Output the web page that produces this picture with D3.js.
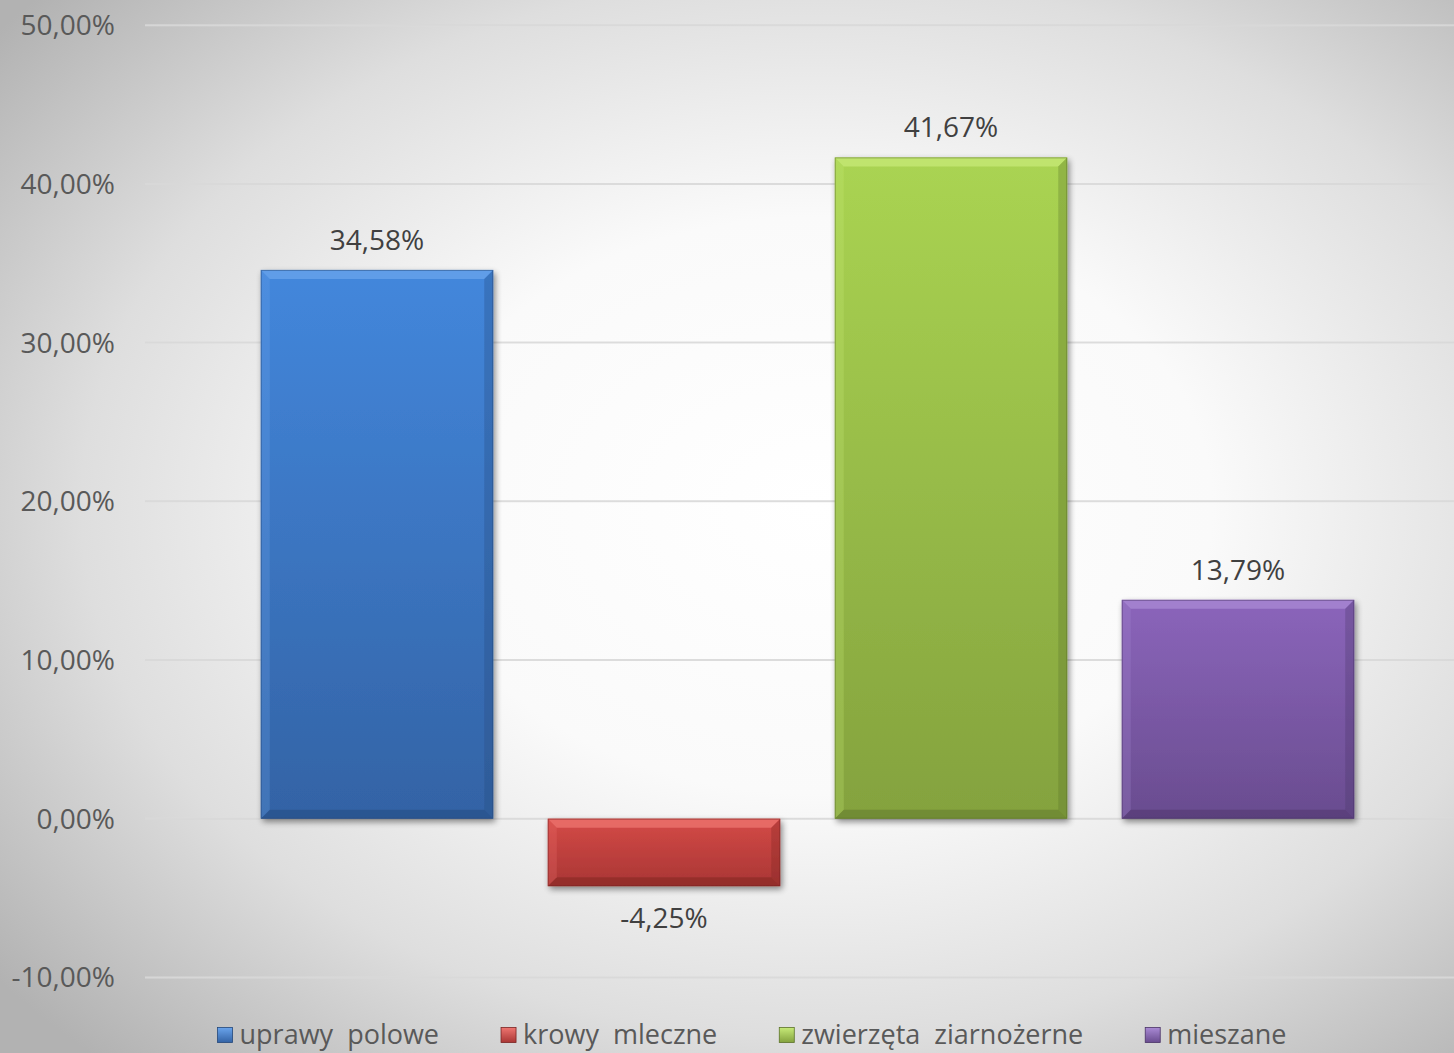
<!DOCTYPE html>
<html><head><meta charset="utf-8">
<script src="https://cdn.jsdelivr.net/npm/d3@7"></script>
<style>html,body{margin:0;padding:0;overflow:hidden;background:#fff}svg{display:block}</style>
</head><body>
<svg id="c" width="1454" height="1053"></svg>
<script>
const categories = ["uprawy  polowe", "krowy  mleczne", "zwierzęta  ziarnożerne", "mieszane"];
const values = [34.58, -4.25, 41.67, 13.79];
const valueLabels = ["34,58%", "-4,25%", "41,67%", "13,79%"];
const yTicks = [-10, 0, 10, 20, 30, 40, 50];
const yTickLabels = ["-10,00%", "0,00%", "10,00%", "20,00%", "30,00%", "40,00%", "50,00%"];
const colorsTop = ["#4387dc", "#d44a47", "#aad452", "#8b65bb"];
const colorsBottom = ["#3363a5", "#a93634", "#84a23e", "#694c8f"];
const colorsLight = ["#6aa4ec", "#ee7570", "#c7ea78", "#a98ad4"];
const colorsDark = ["#24487a", "#7a2422", "#5b7229", "#4a3466"];

const W = 1454, H = 1053;
const svg = d3.select("#c");
const font = "'Open Sans', sans-serif";
const defs = svg.append("defs");

const bg = defs.append("radialGradient").attr("id", "bg")
  .attr("cx", "0.56").attr("cy", "0.48").attr("r", "0.72").attr("fx", "0.56").attr("fy", "0.48");
bg.append("stop").attr("offset", "0").attr("stop-color", "#ffffff");
bg.append("stop").attr("offset", "0.38").attr("stop-color", "#fafafa");
bg.append("stop").attr("offset", "0.7").attr("stop-color", "#dedede");
bg.append("stop").attr("offset", "1").attr("stop-color", "#b2b2b2");
svg.append("rect").attr("width", W).attr("height", H).attr("fill", "url(#bg)");

const sh = defs.append("filter").attr("id", "sh").attr("x", "-10%").attr("y", "-10%").attr("width", "130%").attr("height", "130%");
sh.append("feGaussianBlur").attr("in", "SourceAlpha").attr("stdDeviation", 3);
sh.append("feOffset").attr("dx", 2).attr("dy", 3).attr("result", "b");
sh.append("feComponentTransfer").append("feFuncA").attr("type", "linear").attr("slope", 0.45);
const m = sh.append("feMerge"); m.append("feMergeNode"); m.append("feMergeNode").attr("in", "SourceGraphic");

categories.forEach((c, i) => {
  const g = defs.append("linearGradient").attr("id", "g" + i).attr("x1", 0).attr("y1", 0).attr("x2", 0).attr("y2", 1);
  g.append("stop").attr("offset", 0).attr("stop-color", colorsTop[i]);
  g.append("stop").attr("offset", 1).attr("stop-color", colorsBottom[i]);
});

const y = d3.scaleLinear().domain([-10, 50]).range([977.4, 25.2]);
const x = d3.scaleBand().domain(categories).range([233.5, 1381.5]).paddingInner(0.19).paddingOuter(0.095);

// gridlines
svg.append("g").selectAll("line").data(yTicks).join("line")
  .attr("x1", 145).attr("x2", W)
  .attr("y1", d => y(d)).attr("y2", d => y(d))
  .attr("stroke", "#d9d9d9").attr("stroke-width", 2).attr("opacity", 0.9);

// y labels
svg.append("g").selectAll("text").data(yTicks).join("text")
  .attr("x", 115).attr("y", d => y(d)).attr("dy", "0.36em")
  .attr("text-anchor", "end").attr("font-family", font).attr("font-size", 28)
  .attr("fill", "#595959").text((d, i) => yTickLabels[i]);

// bars
const bev = 9;
const bars = svg.append("g").selectAll("g").data(values).join("g").attr("filter", "url(#sh)");
bars.each(function (v, i) {
  const gg = d3.select(this);
  const x0 = x(categories[i]), w = x.bandwidth();
  const top = y(Math.max(0, v)), bot = y(Math.min(0, v));
  const h = bot - top;
  gg.append("rect").attr("x", x0).attr("y", top).attr("width", w).attr("height", h).attr("fill", "url(#g" + i + ")");
  const b = Math.min(bev, h / 3);
  gg.append("path").attr("d", `M${x0},${top}L${x0 + w},${top}L${x0 + w - b},${top + b}L${x0 + b},${top + b}Z`)
    .attr("fill", colorsLight[i]).attr("opacity", 0.75);
  gg.append("path").attr("d", `M${x0},${bot}L${x0 + w},${bot}L${x0 + w - b},${bot - b}L${x0 + b},${bot - b}Z`)
    .attr("fill", colorsDark[i]).attr("opacity", 0.45);
  gg.append("path").attr("d", `M${x0},${top}L${x0 + b},${top + b}L${x0 + b},${bot - b}L${x0},${bot}Z`)
    .attr("fill", colorsLight[i]).attr("opacity", 0.25);
  gg.append("path").attr("d", `M${x0 + w},${top}L${x0 + w - b},${top + b}L${x0 + w - b},${bot - b}L${x0 + w},${bot}Z`)
    .attr("fill", colorsDark[i]).attr("opacity", 0.3);
  gg.append("rect").attr("x", x0 + 0.5).attr("y", top + 0.5).attr("width", w - 1).attr("height", h - 1)
    .attr("fill", "none").attr("stroke", colorsDark[i]).attr("stroke-opacity", 0.5).attr("stroke-width", 1);
});

// value labels
svg.append("g").selectAll("text").data(values).join("text")
  .attr("x", (d, i) => x(categories[i]) + x.bandwidth() / 2)
  .attr("y", d => d >= 0 ? y(d) - 20 : y(d) + 42)
  .attr("text-anchor", "middle").attr("font-family", font).attr("font-size", 28)
  .attr("fill", "#404040").text((d, i) => valueLabels[i]);

// legend
const leg = svg.append("g");
const items = leg.selectAll("g").data(categories).join("g");
const mk = 15, gapM = 7, gapItem = 62, legY = 1034;
items.each(function (c, i) {
  const g = d3.select(this);
  const lg = defs.append("linearGradient").attr("id", "lg" + i).attr("x1", 0).attr("y1", 0).attr("x2", 0).attr("y2", 1);
  lg.append("stop").attr("offset", 0).attr("stop-color", colorsLight[i]);
  lg.append("stop").attr("offset", 1).attr("stop-color", colorsBottom[i]);
  g.append("rect").attr("x", 0).attr("y", legY - mk / 2 + 1).attr("width", mk).attr("height", mk)
    .attr("fill", "url(#lg" + i + ")").attr("stroke", colorsDark[i]).attr("stroke-width", 0.8);
  g.append("text").attr("x", mk + gapM).attr("y", legY).attr("dy", "0.36em")
    .attr("font-family", font).attr("font-size", 27).attr("fill", "#595959")
    .style("white-space", "pre").attr("xml:space", "preserve").text(c);
});
let cx = 0; const widths = [];
items.each(function () { widths.push(this.getBBox().width); });
const total = d3.sum(widths) + gapItem * (widths.length - 1);
cx = 752 - total / 2;
items.attr("transform", (d, i) => { const t = `translate(${cx},0)`; cx += widths[i] + gapItem; return t; });
</script>
</body></html>
